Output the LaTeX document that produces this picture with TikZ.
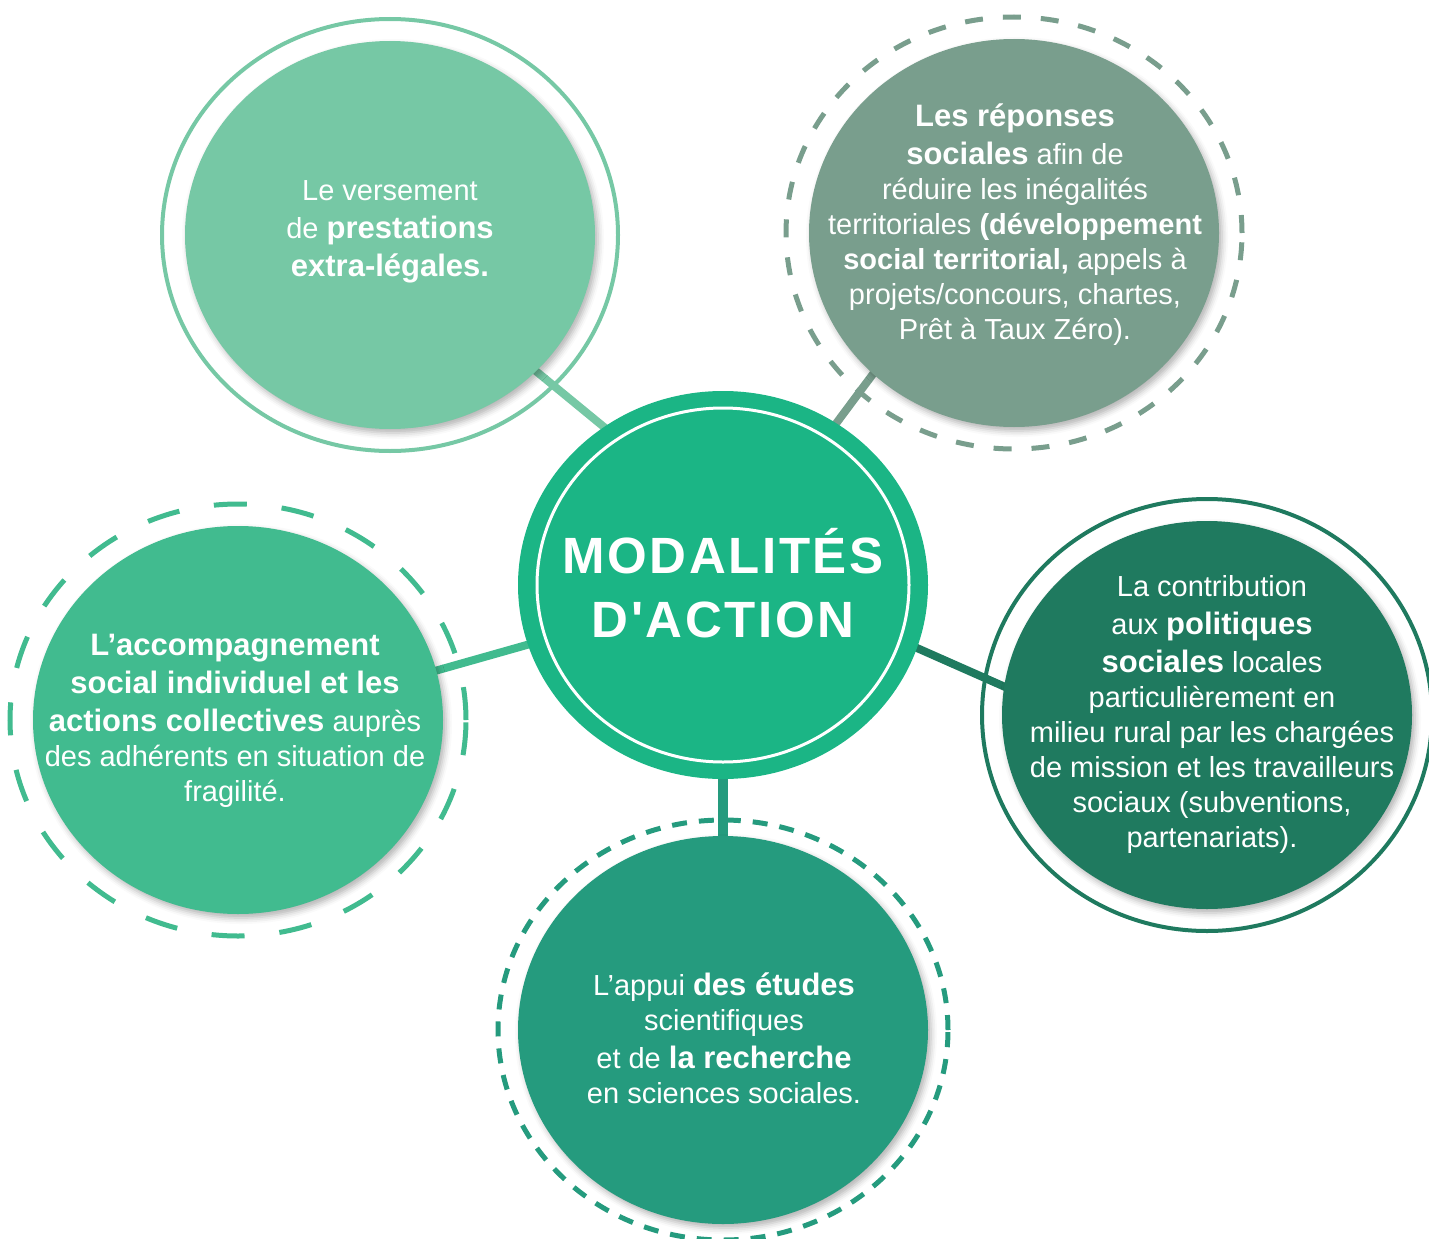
\documentclass[tikz,border=0pt]{standalone}
\usepackage{fontspec}
\setmainfont{Liberation Sans}
\newfontfamily\hubfont[LetterSpace=5, Ligatures=TeXOff]{Liberation Sans}
\usetikzlibrary{shapes.geometric, shadows.blur}
\definecolor{hubgreen}{HTML}{1BB585}
\definecolor{tlgreen}{HTML}{76C8A5}
\definecolor{trgreen}{HTML}{799E8D}
\definecolor{rgreen}{HTML}{1F7A5F}
\definecolor{lgreen}{HTML}{41BB8F}
\definecolor{bgreen}{HTML}{259B7E}
\pgfdeclarelayer{background}
\pgfsetlayers{background,main}
\newcommand{\bigbold}[1]{{\fontsize{31}{37}\selectfont\bfseries #1}}

\begin{document}
\begin{tikzpicture}[x=1pt, y=-1pt,
  disc/.style={ellipse, inner sep=0pt, minimum width=410pt, minimum height=388pt, fill=#1},
  sat/.style={disc=#1, blur shadow={shadow xshift=3pt, shadow yshift=-4pt, shadow blur radius=6pt, shadow opacity=30}},
  ring/.style={ellipse, inner sep=0pt, draw=#1, line width=4pt, minimum width=456pt, minimum height=432pt},
  circtext/.style={text=white, align=center, inner sep=0pt, font=\fontsize{29}{35}\selectfont},
  link/.style={line width=8pt, shorten <=-14pt, shorten >=-14pt}]
\useasboundingbox (0,0) rectangle (1429,1239);

\node [disc=hubgreen] (hub) at (723,585) {};
\node [ellipse, inner sep=0pt, draw=white, line width=3pt, minimum width=372pt, minimum height=354pt] (hub-ring) at (hub) {};
\node [text=white, align=center, font=\hubfont\bfseries\fontsize{51}{64}\selectfont] (hub-text) at (723,583) {MODALITÉS\\D'ACTION};

\node [sat=tlgreen] (tl) at (390,235) {};
\node [sat=trgreen] (tr) at (1014,233) {};
\node [sat=rgreen]  (r)  at (1207,715) {};
\node [sat=lgreen]  (l)  at (238,720) {};
\node [sat=bgreen]  (b)  at (723,1030) {};

\begin{pgfonlayer}{background}
  \node [ring=tlgreen] (tl-ring) at (tl) {};
  \node [ring=trgreen, line width=5pt, dash pattern=on 18pt off 20pt] (tr-ring) at (tr) {};
  \node [ring=rgreen, minimum width=450pt] (r-ring) at (r) {};
  \node [ring=lgreen, line width=5pt, dash pattern=on 33pt off 35pt] (l-ring) at (l) {};
  \node [ring=bgreen, line width=5pt, dash pattern=on 15pt off 12pt, minimum width=450pt, minimum height=420pt] (b-ring) at (b) {};
  \foreach \s/\a/\e/\c/\w in {tl/127/-43/tlgreen/8, tr/55/-135/trgreen/8, r/-18/172/rgreen/8,
                              l/197/14/lgreen/8, b/-90/90/bgreen/10}
    \draw [link, \c, line width=\w pt] (hub.\a) -- (\s.\e);
\end{pgfonlayer}

\node [circtext] (tl-text) at (390,232) {Le versement\\[3pt] de \bigbold{prestations}\\[3pt] \bigbold{extra-légales.}};
\node [circtext] (tr-text) at (1015,225)
  {\bigbold{Les réponses}\\[3pt] \bigbold{sociales} afin de\\ réduire les inégalités\\
   territoriales \textbf{(développement}\\ \textbf{social territorial,} appels à\\
   projets/concours, chartes,\\ Prêt à Taux Zéro).};
\node [circtext] (r-text) at (1212,714)
  {La contribution\\[3pt] aux \bigbold{politiques}\\[3pt] \bigbold{sociales} locales\\ particulièrement en\\
   milieu rural par les chargées\\ de mission et les travailleurs\\ sociaux (subventions,\\ partenariats).};
\node [circtext] (l-text) at (235,721)
  {\bigbold{L’accompagnement}\\[3pt] \bigbold{social individuel et les}\\[3pt] \bigbold{actions collectives} auprès\\
   des adhérents en situation de\\ fragilité.};
\node [circtext] (b-text) at (724,1038)
  {L’appui \bigbold{des études}\\ scientifiques\\[3pt] et de \bigbold{la recherche}\\ en sciences sociales.};
\end{tikzpicture}
\end{document}
